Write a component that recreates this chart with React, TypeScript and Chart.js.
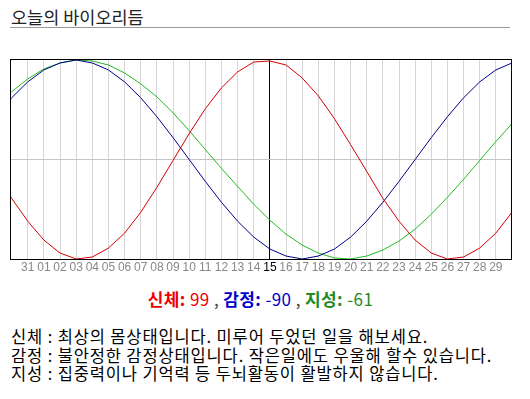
import React, { useEffect, useRef } from 'react';
import { Chart, registerables } from 'chart.js';

Chart.register(...registerables);

// Day labels on the x axis (index 0..29)
const dayLabels = ['31', '01', '02', '03', '04', '05', '06', '07', '08', '09', '10', '11', '12', '13', '14', '15', '16', '17', '18', '19', '20', '21', '22', '23', '24', '25', '26', '27', '28', '29'];
const todayIndex = 15;
// First data point sits at this day index (data runs from -2 to 30)
const firstDay = -2;

// Series values, one per day (index -2 .. 30)
const physical = [-12, -39, -62, -81, -94, -100, -98, -89, -74, -53, -28, -1, 26, 51, 72, 88, 98, 99, 95, 82, 64, 41, 15, -12, -39, -62, -81, -94, -100, -98, -89, -74, -53];
const emotional = [43, 62, 78, 90, 97, 100, 97, 90, 78, 62, 43, 22, 0, -22, -43, -62, -78, -90, -97, -100, -97, -90, -78, -62, -43, -22, 0, 22, 43, 62, 78, 90, 97];
const intellectual = [53, 68, 81, 91, 97, 100, 99, 95, 87, 76, 63, 47, 29, 10, -9, -27, -45, -61, -75, -86, -94, -99, -100, -97, -91, -82, -70, -55, -38, -20, -1, 18, 36];

const seriesNames = ['신체', '감정', '지성'];
const todayScores = [99, -90, -61];
const seriesColors = ['#d40000', '#000088', '#22bb22'];
const scoreColors = ['#ee0000', '#0000cc', '#228b22'];
const messages = [
  '신체 : 최상의 몸상태입니다. 미루어 두었던 일을 해보세요.',
  '감정 : 불안정한 감정상태입니다. 작은일에도 우울해 할수 있습니다.',
  '지성 : 집중력이나 기억력 등 두뇌활동이 활발하지 않습니다.',
];

const KR = '"Noto Sans CJK KR", "Noto Sans", sans-serif';

const framePlugin = {
  id: 'frame',
  afterDraw(chart: any) {
    const { ctx, chartArea } = chart;
    const { left, top, right, bottom } = chartArea;
    ctx.save();
    ctx.strokeStyle = '#000';
    ctx.lineWidth = 1;
    ctx.strokeRect(Math.round(left) + 0.5, Math.round(top) + 0.5, Math.round(right - left) - 1, Math.round(bottom - top) - 1);
    ctx.restore();
  },
};

function BioChart() {
  const ref = useRef<HTMLCanvasElement | null>(null);
  useEffect(() => {
    if (!ref.current) return;
    const toPoints = (arr: number[]) => arr.map((v, k) => ({ x: firstDay + k, y: v }));
    const sets = [physical, emotional, intellectual];
    const chart = new Chart(ref.current, {
      type: 'line',
      data: {
        datasets: sets.map((s, i) => ({
          label: seriesNames[i],
          data: toPoints(s),
          borderColor: seriesColors[i],
          backgroundColor: seriesColors[i],
          borderWidth: 1,
          pointRadius: 0,
          tension: 0,
          fill: false,
        })),
      },
      options: {
        animation: false,
        responsive: false,
        maintainAspectRatio: false,
        events: [],
        layout: { padding: { left: 10, right: 18, top: 19, bottom: 10.6 } },
        plugins: {
          legend: { display: false },
          tooltip: { enabled: false },
        },
        scales: {
          x: {
            type: 'linear',
            min: -1.1,
            max: 30,
            afterBuildTicks: (s: any) => {
              s.ticks = dayLabels.map((_, i) => ({ value: i }));
            },
            ticks: {
              autoSkip: false,
              maxRotation: 0,
              padding: 0,
              font: { family: '"Liberation Sans", Arial, sans-serif', size: 12 },
              color: (c: any) => (c.tick && c.tick.value === todayIndex ? '#000' : '#888'),
              callback: (v: any) => dayLabels[v] ?? '',
            },
            grid: {
              color: (c: any) => (c.tick && c.tick.value === todayIndex ? '#000' : '#d6d6d6'),
              drawTicks: false,
              lineWidth: 1,
            },
            border: { display: false },
          },
          y: {
            type: 'linear',
            min: -101,
            max: 101,
            afterBuildTicks: (s: any) => {
              s.ticks = [{ value: 0 }];
            },
            ticks: { display: false },
            grid: { color: '#c4c4c4', drawTicks: false, lineWidth: 1 },
            border: { display: false },
          },
        },
      } as any,
      plugins: [framePlugin],
    });
    return () => chart.destroy();
  }, []);
  return (
    <canvas
      ref={ref}
      width={530}
      height={245}
      style={{ position: 'absolute', left: 0, top: 40, width: 530, height: 245 }}
    />
  );
}

export default function App() {
  return (
    <div style={{ position: 'fixed', left: 0, top: 0, width: 530, height: 399, background: '#fff', overflow: 'hidden' }}>
      <div style={{ position: 'absolute', left: 11, top: 6, fontFamily: KR, fontSize: 17.5, lineHeight: '21.6px', color: '#222', whiteSpace: 'nowrap' }}>
        오늘의 바이오리듬
      </div>
      <div style={{ position: 'absolute', left: 10, top: 27, width: 500, height: 1, background: '#999' }} />
      <BioChart />
      <div style={{ position: 'absolute', left: 10, top: 289, width: 501, textAlign: 'center', fontFamily: KR, fontSize: 17, lineHeight: '20.4px', letterSpacing: '0.4px', color: '#444', whiteSpace: 'nowrap' }}>
        {seriesNames.map((n, i) => (
          <React.Fragment key={n}>
            <span style={{ color: scoreColors[i], fontWeight: 'bold' }}>{n}:</span>
            <span style={{ color: scoreColors[i] }}> {todayScores[i]}</span>
            {i < seriesNames.length - 1 ? ' , ' : ''}
          </React.Fragment>
        ))}
      </div>
      <div style={{ position: 'absolute', left: 11, top: 327, fontFamily: KR, fontSize: 16.5, lineHeight: '18.7px', letterSpacing: '0.86px', color: '#000', whiteSpace: 'nowrap' }}>
        {messages.map((m) => (
          <div key={m}>{m}</div>
        ))}
      </div>
    </div>
  );
}
